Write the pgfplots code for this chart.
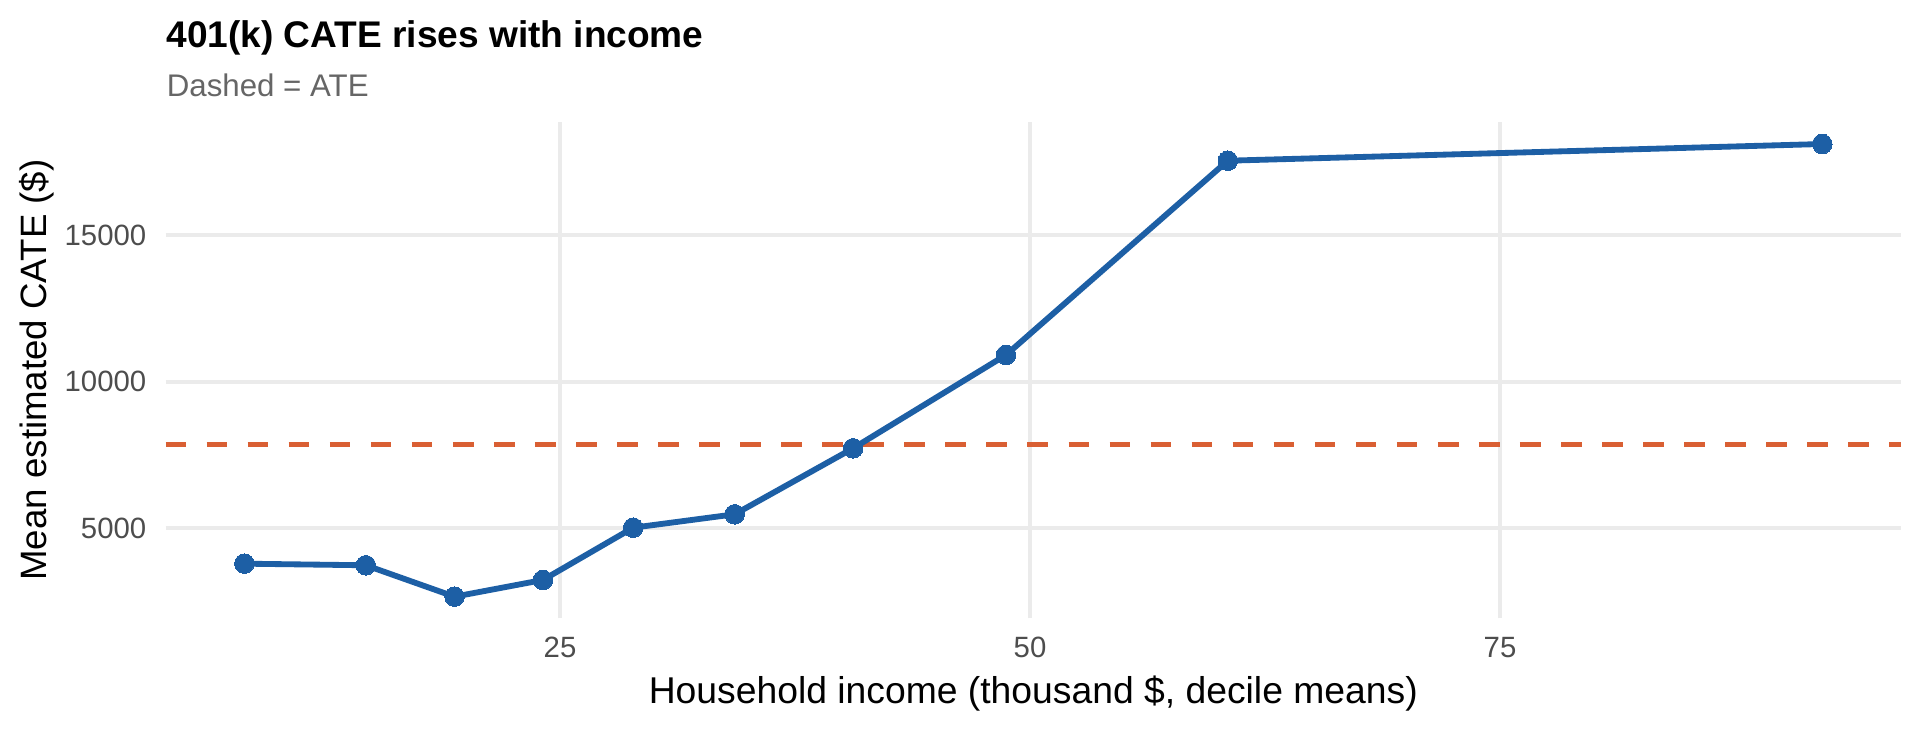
\documentclass[border=0pt]{standalone}
\usepackage{fontspec}
\setmainfont{Liberation Sans}
\usepackage{pgfplots}
\pgfplotsset{compat=1.18}
\definecolor{cateblue}{HTML}{1D5FA5}
\definecolor{ateorange}{HTML}{D95F33}
\definecolor{gridgray}{HTML}{EBEBEB}
\definecolor{tickgray}{HTML}{4D4D4D}
\definecolor{subgray}{HTML}{666666}
\begin{document}
\begin{tikzpicture}
\path[use as bounding box, fill=white] (0,0) rectangle (460.8bp,174.96bp);
\begin{axis}[
  at={(39.74bp,26.57bp)}, anchor=south west,
  scale only axis, width=416.5bp, height=119.18bp,
  xmin=4.02, xmax=96.33, ymin=1931, ymax=18863,
  xtick={25,50,75}, ytick={5000,10000,15000},
  axis line style={draw=none},
  major tick length=0pt,
  grid=major,
  major grid style={draw=gridgray, line width=0.9bp},
  /pgf/number format/assume math mode=true,
  /pgf/number format/1000 sep={},
  scaled y ticks=false,
  tick label style={font=\fontsize{7.04bp}{8bp}\selectfont, text=tickgray, inner sep=0pt},
  xticklabel style={anchor=base, yshift=-9.29bp},
  yticklabel style={anchor=east, xshift=-4.44bp},
  xlabel={Household income (thousand \$, decile means)},
  ylabel={Mean estimated CATE (\$)},
  every axis x label/.style={at={(axis description cs:0.5,0)}, yshift=-20.33bp, anchor=base, inner sep=0pt, font=\fontsize{8.95bp}{10bp}\selectfont},
  every axis y label/.style={at={(axis description cs:0,0.5)}, xshift=-28.64bp, rotate=90, anchor=base, inner sep=0pt, font=\fontsize{8.8bp}{10bp}\selectfont},
  title={401(k) CATE rises with income},
  every axis title/.style={at={(axis description cs:0,1)}, yshift=17.85bp, anchor=base west, inner sep=0pt, font=\bfseries\fontsize{8.9bp}{10bp}\selectfont},
]
\addplot[ateorange, line width=1.25bp, dash pattern=on 4.95bp off 4.9bp, forget plot] coordinates {(4.02,7864) (96.33,7864)};
\addplot[cateblue, line width=1.4bp, mark=*, mark size=2.35bp, mark options={solid, fill=cateblue, draw=cateblue, line width=0pt}] coordinates {
(8.21,3793) (14.67,3739) (19.39,2668) (24.09,3237) (28.89,5020) (34.29,5477) (40.59,7728) (48.72,10909) (60.52,17533) (92.14,18103)
};
\end{axis}
\node[anchor=base west, inner sep=0pt, text=subgray, font=\fontsize{7.5bp}{9bp}\selectfont] at (39.84bp,151.9bp) {Dashed = ATE};
\end{tikzpicture}
\end{document}
